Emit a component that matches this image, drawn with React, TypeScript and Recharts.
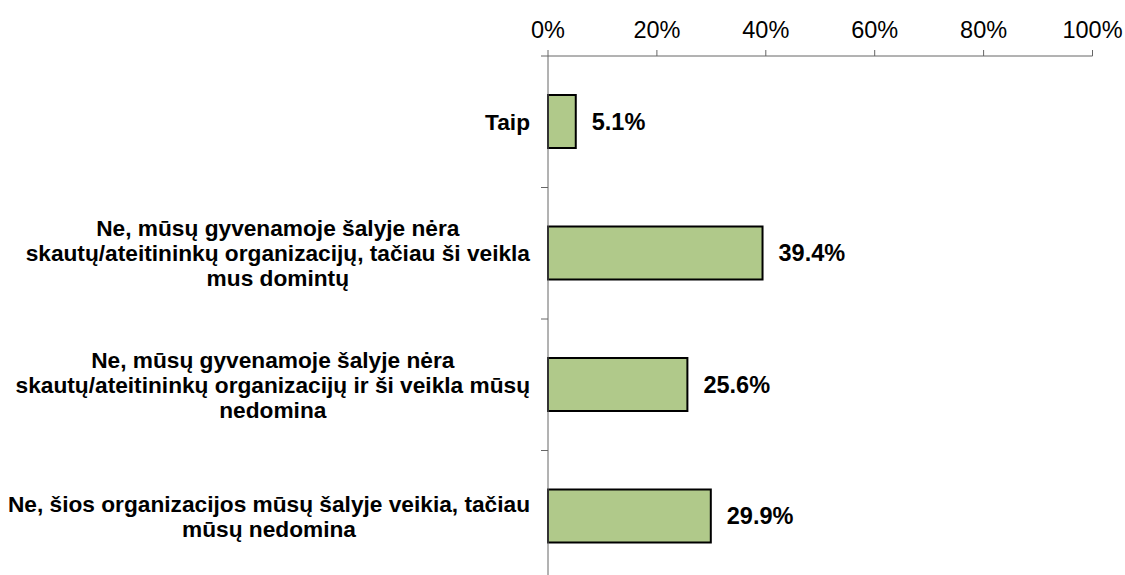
import { BarChart, Bar, XAxis, YAxis, LabelList } from 'recharts';

const categories = [
  'Taip',
  'Ne, mūsų gyvenamoje šalyje nėra\nskautų/ateitininkų organizacijų, tačiau ši veikla\nmus domintų',
  'Ne, mūsų gyvenamoje šalyje nėra\nskautų/ateitininkų organizacijų ir ši veikla mūsų\nnedomina',
  'Ne, šios organizacijos mūsų šalyje veikia, tačiau\nmūsų nedomina',
];
const shares = [5.1, 39.4, 25.6, 29.9];
const xTicks = [0, 20, 40, 60, 80, 100];

const data = categories.map((name, i) => ({ name, value: shares[i] }));

const FONT = '"Liberation Sans", Arial, sans-serif';
const CAT_SIZE = 22.7;
const NUM_SIZE = 23.5;
const W = 1125;
const H = 590;
const TOP = 56;
const BOTTOM = 8;
const AXIS_X = 548;
const LABEL_GAP = 18;
const LINE_H = 25;
const AXIS_COLOR = '#666';
const BAND = (H - TOP - BOTTOM) / categories.length;

let ctx: CanvasRenderingContext2D | null = null;
function measure(text: string) {
  if (!ctx) {
    ctx = document.createElement('canvas').getContext('2d');
    if (ctx) ctx.font = `bold ${CAT_SIZE}px ${FONT}`;
  }
  return ctx ? ctx.measureText(text).width : text.length * 11;
}

function CategoryTick(props: any) {
  const { x, y, payload, index } = props;
  const lines = String(payload.value).split('\n');
  const block = Math.max(...lines.map(measure));
  const cx = x - block / 2;
  const axisX = x + LABEL_GAP;
  const half = BAND / 2;
  return (
    <g>
      <line x1={axisX - 7} x2={axisX} y1={y - half} y2={y - half} stroke={AXIS_COLOR} />
      {index === categories.length - 1 && (
        <line x1={axisX - 7} x2={axisX} y1={y + half} y2={y + half} stroke={AXIS_COLOR} />
      )}
      <text textAnchor="middle" fontFamily={FONT} fontSize={CAT_SIZE} fontWeight="bold" fill="#000">
        {lines.map((l, i) => (
          <tspan key={i} x={cx} y={y + (i - (lines.length - 1) / 2) * LINE_H + 8}>
            {l}
          </tspan>
        ))}
      </text>
    </g>
  );
}

export default function App() {
  return (
    <div style={{ width: W, height: 575, overflow: 'hidden', background: '#fff' }}>
      <style>{'body{margin:0;overflow:hidden}'}</style>
      <BarChart
        width={W}
        height={H}
        data={data}
        layout="vertical"
        margin={{ top: 0, right: W - 1092.5, bottom: BOTTOM, left: 0 }}
      >
        <XAxis
          type="number"
          orientation="top"
          domain={[0, 100]}
          ticks={xTicks}
          tickFormatter={(v: number) => `${v}%`}
          height={TOP}
          tickSize={6}
          tickMargin={12}
          stroke={AXIS_COLOR}
          tick={{ fill: '#000', fontSize: NUM_SIZE, fontFamily: FONT }}
          interval={0}
        />
        <YAxis
          type="category"
          dataKey="name"
          width={AXIS_X}
          tickLine={false}
          tickSize={0}
          tickMargin={LABEL_GAP}
          stroke={AXIS_COLOR}
          tick={<CategoryTick />}
          interval={0}
        />
        <Bar dataKey="value" barSize={53} fill="#b0c98a" stroke="#000" strokeWidth={2} isAnimationActive={false}>
          <LabelList
            dataKey="value"
            position="right"
            offset={16}
            formatter={(v: number) => `${v.toFixed(1)}%`}
            style={{ fill: '#000', fontSize: NUM_SIZE, fontWeight: 'bold', fontFamily: FONT }}
          />
        </Bar>
      </BarChart>
    </div>
  );
}
